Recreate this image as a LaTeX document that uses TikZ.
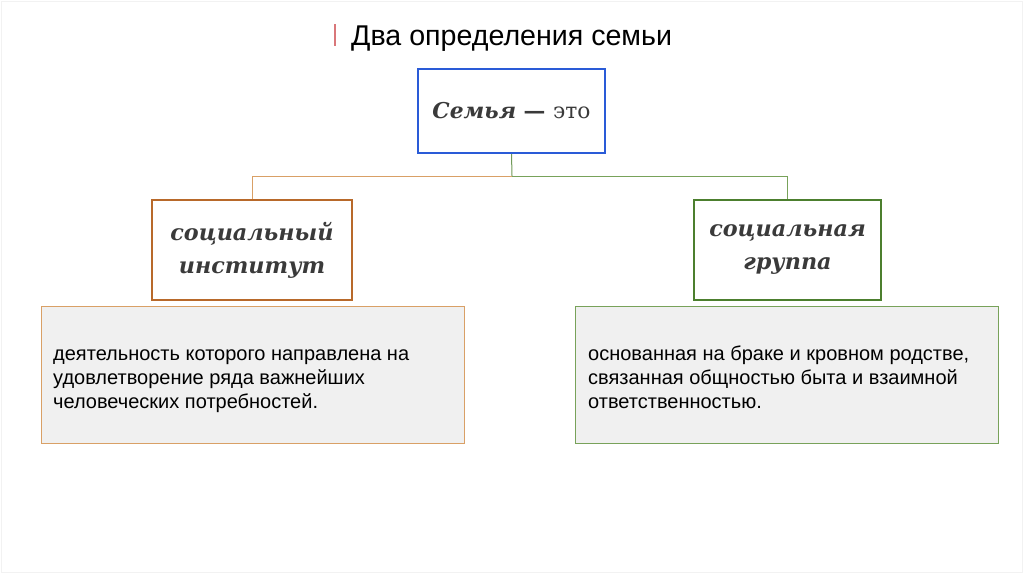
\documentclass[tikz,border=0pt]{standalone}
\usepackage{fontspec}
\setmainfont{Liberation Sans}
\newfontfamily\serifx{DejaVu Serif}
\definecolor{titlered}{HTML}{D9777A}
\definecolor{blueb}{HTML}{2A5BD7}
\definecolor{brownb}{HTML}{B8692A}
\definecolor{greenb}{HTML}{4C7F2E}
\definecolor{lorange}{HTML}{D9A066}
\definecolor{lgreen}{HTML}{78A25A}
\definecolor{descfill}{HTML}{F0F0F0}
\definecolor{textgray}{HTML}{3A3A3A}
\definecolor{framegray}{HTML}{F2F2F2}
\tikzset{
  headbox/.style={draw, line width=2.2pt, minimum width=#1, inner sep=0pt, text=textgray, align=center},
  descbox/.style={draw, line width=1pt, fill=descfill, minimum width=423pt, minimum height=137pt, inner sep=0pt},
  desctext/.style={anchor=base west, align=left, font=\fontsize{20}{24}\selectfont, inner sep=0pt},
  conn/.style={line width=1pt}
}
\begin{document}
\begin{tikzpicture}[x=1pt,y=-1pt]
\useasboundingbox (0,0) rectangle (1024,574);
\draw[framegray, line width=1pt] (1.5,1.5) rectangle (1022.5,572.5);
% title
\draw[titlered, line width=1.5pt] (335,24) -- (335,46);
\node[anchor=base west, inner sep=0pt, font=\fontsize{28.6}{30}\selectfont] (title) at (351,45) {Два определения семьи};
% top box
\node[headbox=187pt, draw=blueb, minimum height=84pt] (top) at (511.5,111) {\serifx\fontsize{21.8}{24}\selectfont\bfseries\itshape Семья \upshape— \mdseries это};
% category boxes
\node[headbox=200pt, draw=brownb, minimum height=100pt, font=\serifx\fontsize{22.3}{33}\selectfont\bfseries\itshape] (inst) at (252,250) {социальный\\институт};
\node[headbox=187pt, draw=greenb, minimum height=100pt, font=\serifx\fontsize{22.3}{33}\selectfont\bfseries\itshape] (grp) at (787.5,250) {социальная\\группа};
% connectors
\coordinate (mid) at (512,176);
\draw[conn, color=greenb!80] (top.south) -- (mid);
\draw[conn, color=lorange] (mid) -| (inst.north);
\draw[conn, color=lgreen] (mid) -| (grp.north);
% description boxes
\node[descbox, draw=lorange] (d1) at (252.5,374.5) {};
\node[descbox, draw=lgreen] (d2) at (787,374.5) {};
\node[desctext] (t1) at (53,408) {деятельность которого направлена на\\удовлетворение ряда важнейших\\человеческих потребностей.};
\node[desctext] (t2) at (588,408) {основанная на браке и кровном родстве,\\связанная общностью быта и взаимной\\ответственностью.};
\end{tikzpicture}
\end{document}
